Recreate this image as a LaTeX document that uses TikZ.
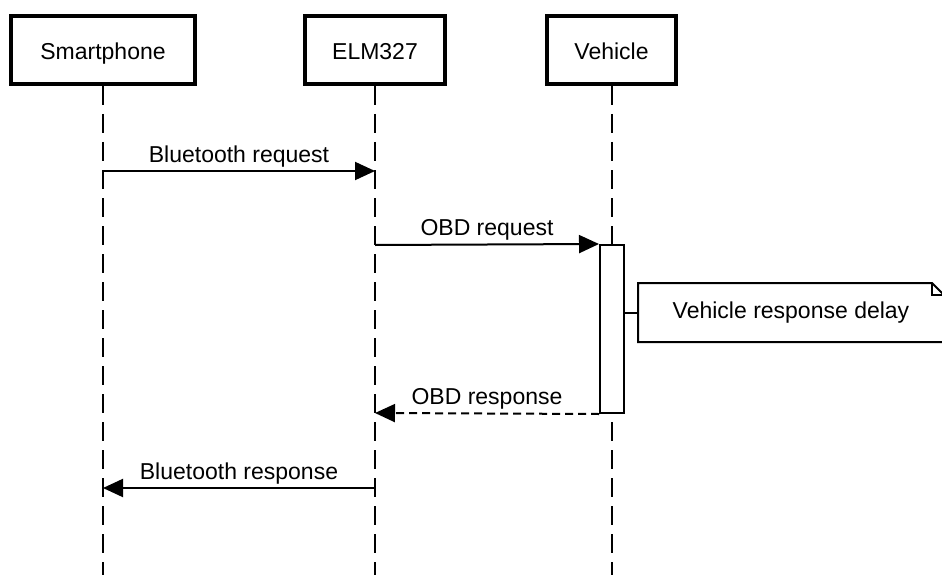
\documentclass[tikz,border=0pt]{standalone}
\usepackage{fontspec}
\setmainfont{Liberation Sans}
\usepackage{tikz}
\usetikzlibrary{arrows.meta}
\usetikzlibrary{positioning}
\usetikzlibrary{calc}
\tikzset{
    actor/.style={draw=black, line width=4pt, minimum height=68pt, inner sep=0pt,
        text height=21pt, text depth=1pt, font=\fontsize{23}{27}\selectfont},
    lifeline/.style={draw=black, line width=2pt, dash pattern=on 19pt off 9pt},
    message/.style={draw=black, line width=2pt, -{Triangle[length=20pt,width=18pt]}},
    reply/.style={draw=black, line width=2pt, dash pattern=on 8pt off 5pt,
        -{Triangle[length=20pt,width=18pt]}},
    msglabel/.style={font=\fontsize{23}{27}\selectfont, inner sep=0pt, above=3pt},
    activation/.style={draw=black, fill=white, line width=2pt, minimum width=24pt,
        minimum height=168pt, inner sep=0pt},
    notebox/.style={minimum width=304pt, minimum height=57pt, inner sep=0pt,
        font=\fontsize{23}{27}\selectfont},
}

\begin{document}
\begin{tikzpicture}[x=1pt, y=-1pt, line width=2pt]
	\clip (0,0) rectangle (942,575);
	% participants
	\node[actor, minimum width=184pt] (phone) at (103,50) {Smartphone};
	\node[actor, minimum width=140pt] (elm) at (375,50) {ELM327};
	\node[actor, minimum width=129pt] (car) at (611.5,50) {Vehicle};
	\coordinate (phone-end) at (103,580);
	\coordinate (elm-end) at (375,580);
	\coordinate (car-end) at (611.5,580);
	\draw[lifeline] (phone.south)--(phone-end);
	\draw[lifeline] (elm.south)--(elm-end);
	\draw[lifeline] (car.south)--(car-end);
	% activation and note
	\node[activation] (act) at (612,329) {};
	\node[notebox] (delay) at (791,312.5) {Vehicle response delay};
	\draw (delay.south west)--(delay.north west)--($(delay.north east)+(-12,0)$)
		--($(delay.north east)+(0,12)$)--(delay.south east)--cycle;
	\draw ($(delay.north east)+(-12,0)$)--++(0,12)--++(12,0);
	\draw (act.east |- delay.west)--(delay.west);
	% messages
	\coordinate (btreq-a) at (103,171);
	\coordinate (btreq-b) at (375,171);
	\coordinate (obdreq-a) at (375,245);
	\coordinate (obdres-b) at (375,413);
	\coordinate (btres-a) at (375,488);
	\coordinate (btres-b) at (103,488);
	\draw[message] (btreq-a)--(btreq-b) node[msglabel, midway] {Bluetooth request};
	\draw[message] (obdreq-a)--(act.north west) node[msglabel, midway] {OBD request};
	\draw[reply] (act.south west)--(obdres-b) node[msglabel, midway] {OBD response};
	\draw[message] (btres-a)--(btres-b) node[msglabel, midway] {Bluetooth response};
\end{tikzpicture}
\end{document}
